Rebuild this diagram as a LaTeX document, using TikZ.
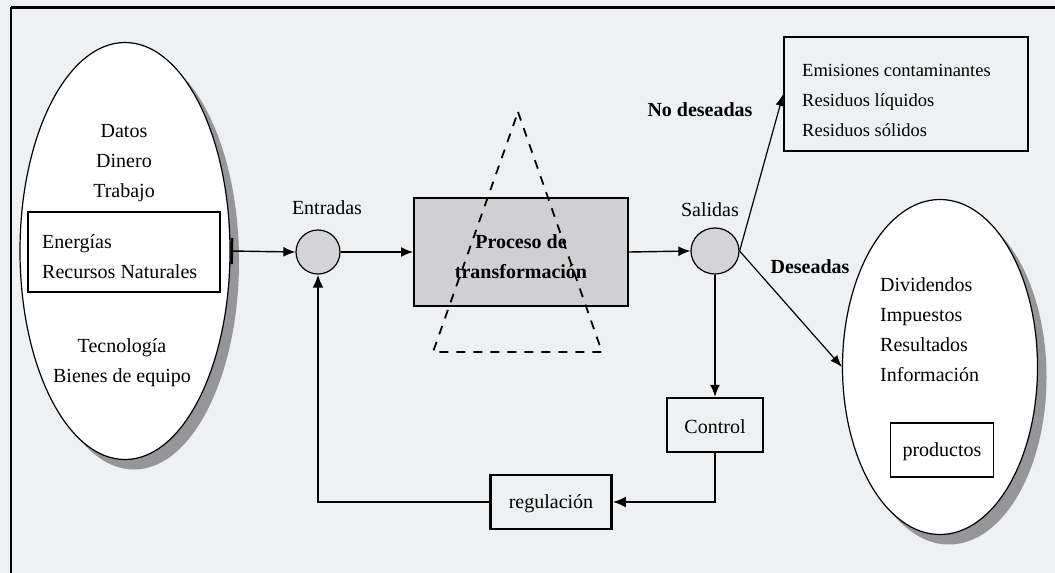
\documentclass[tikz,border=0pt]{standalone}
\usepackage{fontspec}
\setmainfont{Liberation Serif}
\usetikzlibrary{shapes.geometric,arrows.meta,shadows}
\definecolor{bgc}{RGB}{238,240,242}
\definecolor{procfill}{RGB}{208,208,210}
\definecolor{circfill}{RGB}{212,212,214}
\definecolor{shadowc}{RGB}{150,150,152}
\begin{document}
\begin{tikzpicture}[x=1pt,y=-1pt,
  every node/.style={font=\fontsize{20}{30}\selectfont, inner sep=0pt},
  bigell/.style={ellipse, draw, line width=1.2pt, fill=white,
     drop shadow={shadow xshift=9pt, shadow yshift=-10pt, fill=shadowc, opacity=1}},
  smallcirc/.style={ellipse, draw, line width=1.2pt, fill=circfill},
  boxa/.style={draw, line width=1.5pt},
  boxb/.style={draw, line width=2.5pt, fill=bgc},
  conn/.style={line width=1.4pt, -{Latex[length=12pt,width=10pt]}},
  fb/.style={line width=2.4pt, -{Latex[length=13pt,width=11pt]}},
  lbl/.style={align=center},
  lblb/.style={font=\fontsize{20}{30}\selectfont\bfseries}]
% canvas
\fill[bgc] (0,0) rectangle (1055,573);
\useasboundingbox (0,0) rectangle (1055,573);
\draw[line width=3pt] (11,7) -- (1055,7);
\draw[line width=2pt] (11,7) -- (11,573);

% left input ellipse
\node[bigell, minimum width=210pt, minimum height=417pt] (inL) at (125,251) {};
\node[lbl] (t1) at (124,163) {Datos\\Dinero\\Trabajo};
\node[boxa, minimum width=192pt, minimum height=80pt] (ebox) at (124,252) {};
\node[align=left, anchor=west] (t2) at (42,257) {Energías\\Recursos Naturales};
\node[lbl] (t3) at (122,363) {Tecnología\\Bienes de equipo};

% entradas
\node[smallcirc, minimum width=44pt, minimum height=44pt] (ent) at (318,252) {};
\node (entl) at (327,208) {Entradas};

% proceso
\node[draw, line width=2pt, fill=procfill, minimum width=214pt, minimum height=108pt] (proc) at (521,252) {};
\coordinate (ta) at (518,112);
\coordinate (tb) at (433,352);
\coordinate (tc) at (602,352);
\draw[line width=1.8pt, dash pattern=on 9pt off 8pt] (ta) -- (tc) -- (tb) -- cycle;
\node[lblb, align=center] (proct) at (521,257) {Proceso de\\transformación};

% salidas
\node[smallcirc, minimum width=48pt, minimum height=46pt] (sal) at (715,251) {};
\node (sall) at (710,210) {Salidas};

% undesired outputs
\node[boxa, minimum width=244pt, minimum height=114pt] (emis) at (906,94) {};
\node[align=left, anchor=west, font=\fontsize{18.5}{30}\selectfont] (emist) at (802,100) {Emisiones contaminantes\\Residuos líquidos\\Residuos sólidos};
\node[lblb] (nod) at (700,110) {No deseadas};

% desired outputs
\node[bigell, minimum width=195pt, minimum height=335pt] (outR) at (940,367) {};
\node[align=left, anchor=west] (outt) at (880,330) {Dividendos\\Impuestos\\Resultados\\Información};
\node[boxa, minimum width=103pt, minimum height=54pt] (prod) at (942,450) {};
\node (prodt) at (942,452) {productos};
\node[lblb] (des) at (810,267) {Deseadas};

% control and regulation
\node[boxb, minimum width=96pt, minimum height=54pt] (ctrl) at (715,425) {};
\node (ctrlt) at (715,427) {Control};
\node[boxb, minimum width=121pt, minimum height=54pt] (reg) at (551,502) {};
\node (regt) at (551,504) {regulación};

% connectors
\draw[line width=1.4pt, {Bar[width=26pt,line width=2.5pt]}-{Latex[length=12pt,width=10pt]}] (inL.east) -- (ent.west);
\draw[conn] (ent.east) -- (proc.west);
\draw[conn] (proc.east) -- (sal.west);
\draw[line width=1.2pt, -{Latex[length=12pt,width=9pt]}] (sal.east) -- (emis.west);
\draw[line width=1.2pt, -{Latex[length=12pt,width=9pt]}] (sal.east) -- (outR.west);
\draw[conn] (sal.south) -- (ctrl.north);
\draw[fb] (ctrl.south) |- (reg.east);
\draw[fb] (reg.west) -| (ent.south);
\end{tikzpicture}
\end{document}
